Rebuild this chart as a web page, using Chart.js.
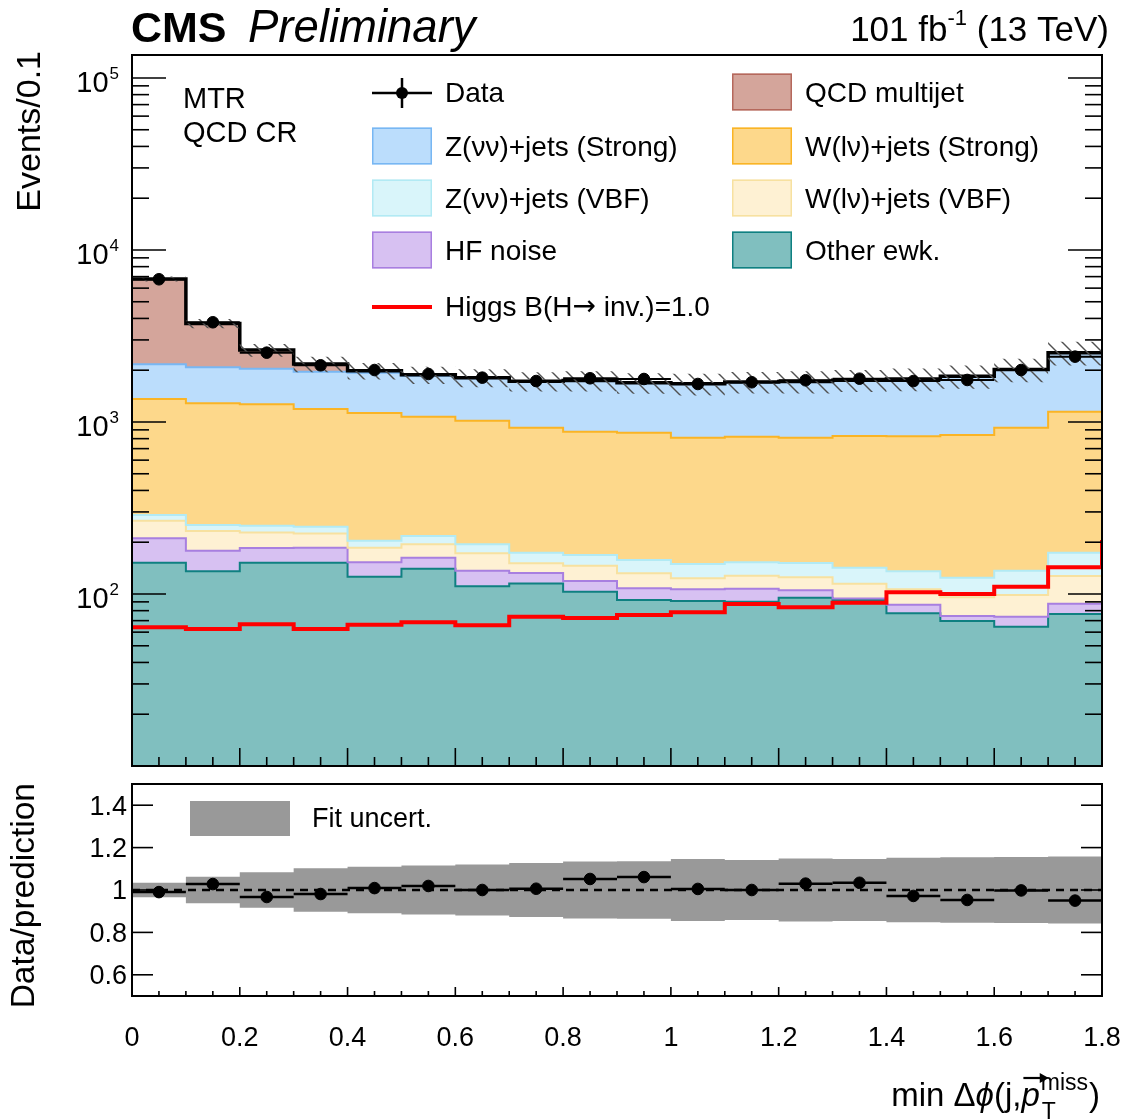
<!DOCTYPE html>
<html>
<head>
<meta charset="utf-8">
<title>MTR QCD CR - min delta phi</title>
<script src="https://cdn.jsdelivr.net/npm/chart.js@4.4.1/dist/chart.umd.min.js"></script>
<style>
  html, body { margin: 0; padding: 0; background: #ffffff; }
  #wrap { position: relative; width: 1123px; height: 1120px; }
  #wrap canvas { position: absolute; left: 0; top: 0; }
</style>
</head>
<body>
<div id="wrap">
  <canvas id="mainPanel" width="1123" height="1120"></canvas>
  <canvas id="ratioPanel" width="1123" height="1120"></canvas>
</div>
<script>
// ---------------- data ----------------
const binEdges = [0, 0.1, 0.2, 0.3, 0.4, 0.5, 0.6, 0.7, 0.8, 0.9, 1.0, 1.1, 1.2, 1.3, 1.4, 1.5, 1.6, 1.7, 1.8];

const dataCounts  = [6756, 3799, 2529, 2136, 2005, 1901, 1810, 1730, 1795, 1778, 1663, 1702, 1748, 1785, 1730, 1755, 2005, 2398];

// background processes, listed from the bottom of the stack upwards
const otherEwk    = [152, 135.5, 152, 152, 126, 140, 111, 115, 103, 92.3, 91.1, 90.2, 95.2, 92.3, 77.2, 69.7, 64.5, 76.5];
const hfNoise     = [59, 43.1, 33, 34, 27, 22.6, 25.7, 17.5, 16, 15.7, 15.3, 17.2, 9.8, 2, 9.5, 4.8, 9.3, 11.4];
const wlnVBF      = [56, 53.9, 43, 39, 33, 31.9, 35.7, 18.3, 27, 23.9, 16.9, 20.4, 20, 20.3, 19.7, 21.1, 24.9, 39.4];
const znnVBF      = [21, 19.5, 21.5, 21, 18, 22.9, 22.1, 23.1, 22.6, 25.8, 26.2, 25, 26.4, 27.3, 29.1, 28.8, 38, 46.6];
const wlnStrong   = [1073, 1032, 1017.5, 944, 924, 856.6, 823.5, 752.1, 709.4, 709.3, 660.5, 668.2, 658.6, 687.4, 690.5, 715.6, 789.3, 974.1];
const znnStrong   = [804, 796, 774, 771, 807, 781, 777, 789, 854, 818, 852, 882, 903, 916, 948, 1001, 1086, 1373];
const qcdMultijet = [4625, 1657, 577, 210, 49, 25, 15, 10, 8, 5, 5, 5, 5, 5, 5, 5, 5, 5];

// signal, last entry is the value past the upper edge
const higgsInv    = [64, 62.6, 66.7, 62.6, 66.3, 68.4, 65.8, 73.8, 72.5, 75.5, 78.2, 87.5, 83.7, 89, 102.3, 100, 110.3, 143];
const higgsOverflow = 206;

// relative fit uncertainty and data/prediction
const fitUncert   = [0.034, 0.063, 0.084, 0.103, 0.110, 0.116, 0.120, 0.127, 0.135, 0.136, 0.146, 0.142, 0.148, 0.146, 0.152, 0.155, 0.156, 0.158];
const ratioVals   = [0.990, 1.028, 0.967, 0.981, 1.009, 1.019, 1.000, 1.006, 1.052, 1.061, 1.005, 1.000, 1.030, 1.034, 0.972, 0.953, 0.998, 0.950];

// axis labels
const xTickValues = [0, 0.2, 0.4, 0.6, 0.8, 1.0, 1.2, 1.4, 1.6, 1.8];
const xTickLabels = ['0', '0.2', '0.4', '0.6', '0.8', '1', '1.2', '1.4', '1.6', '1.8'];
const yDecades    = [2, 3, 4, 5];
const ratioTickValues = [0.6, 0.8, 1.0, 1.2, 1.4];
const ratioTickLabels = ['0.6', '0.8', '1', '1.2', '1.4'];

// ---------------- helpers ----------------
const FONT = '"Liberation Sans", Arial, Helvetica, sans-serif';
const ARROW_FONT = '"DejaVu Sans", sans-serif';
const nBins = binEdges.length - 1;
const binCentres = binEdges.slice(0, nBins).map((e, i) => (e + binEdges[i + 1]) / 2);

// histogram outline: a point at each lower edge plus a closing point at the upper edge
function histPoints(vals, closing) {
  const pts = vals.map((v, i) => ({ x: binEdges[i], y: v }));
  pts.push({ x: binEdges[nBins], y: closing !== undefined ? closing : vals[nBins - 1] });
  return pts;
}

function fontSpec(size, o) {
  return `${o.style || 'normal'} ${o.weight || 'normal'} ${size}px ${o.family || FONT}`;
}
function drawText(ctx, s, x, y, size, o = {}) {
  ctx.save();
  ctx.font = fontSpec(size, o);
  ctx.fillStyle = o.color || '#000';
  ctx.textAlign = o.align || 'left';
  ctx.textBaseline = o.baseline || 'alphabetic';
  ctx.fillText(s, x, y);
  ctx.restore();
}
function textWidth(ctx, s, size, o = {}) {
  ctx.save();
  ctx.font = fontSpec(size, o);
  const w = ctx.measureText(s).width;
  ctx.restore();
  return w;
}
// draws a run of text pieces left to right, each with its own font
function drawRun(ctx, pieces, x, y, size, baseline) {
  let xs = x;
  pieces.forEach(p => {
    const o = { family: p.family, style: p.style, baseline: baseline };
    drawText(ctx, p.s, xs, y, size, o);
    xs += textWidth(ctx, p.s, size, o);
  });
}
function seg(ctx, x0, y0, x1, y1) {
  ctx.beginPath(); ctx.moveTo(x0, y0); ctx.lineTo(x1, y1); ctx.stroke();
}

// ---------------- stacked layers ----------------
const layers = [
  { name: 'Other ewk.',            vals: otherEwk,    fill: '#80bfbf', line: '#0f8081' },
  { name: 'HF noise',              vals: hfNoise,     fill: '#d7c1f2', line: '#a87fe0' },
  { name: 'W(l\u03bd)+jets (VBF)',      vals: wlnVBF,      fill: '#fef1d3', line: '#f7e1a0' },
  { name: 'Z(\u03bd\u03bd)+jets (VBF)', vals: znnVBF,      fill: '#d9f5fa', line: '#b2eaf4' },
  { name: 'W(l\u03bd)+jets (Strong)',   vals: wlnStrong,   fill: '#fdd88b', line: '#fab425' },
  { name: 'Z(\u03bd\u03bd)+jets (Strong)', vals: znnStrong, fill: '#bbddfc', line: '#78b7f3' },
  { name: 'QCD multijet',          vals: qcdMultijet, fill: '#d4a59b', line: '#000000' }
];
const cumulative = [];
{
  let run = new Array(nBins).fill(0);
  layers.forEach(l => { run = run.map((r, i) => r + l.vals[i]); cumulative.push(run.slice()); });
}
const totalPred = cumulative[cumulative.length - 1];

// datasets: index 0 is drawn on top
const mainDatasets = [];
mainDatasets.push({
  label: 'Data',
  data: dataCounts.map((v, i) => ({ x: binCentres[i], y: v })),
  showLine: false, pointRadius: 5.8, pointHoverRadius: 5.8,
  pointBackgroundColor: '#000', pointBorderColor: '#000', borderColor: '#000'
});
mainDatasets.push({
  label: 'Higgs B(H\u2192 inv.)=1.0',
  data: histPoints(higgsInv, higgsOverflow),
  stepped: true, borderColor: '#ff0000', borderWidth: 4, pointRadius: 0, fill: false
});
for (let k = layers.length - 1; k >= 0; k--) {
  const l = layers[k];
  const idx = mainDatasets.length;
  mainDatasets.push({
    label: l.name,
    data: histPoints(cumulative[k]),
    stepped: true,
    borderColor: l.line,
    borderWidth: k === layers.length - 1 ? 3.5 : 2,
    backgroundColor: l.fill,
    pointRadius: 0,
    fill: k === 0 ? 'start' : idx + 1
  });
}

// hatched uncertainty band and data bin-width bars, drawn just before the data markers
const mainOverlay = {
  id: 'mainOverlay',
  beforeDatasetDraw(chart, args) {
    if (args.index !== 0) return;
    const { ctx, chartArea: a, scales: { x, y } } = chart;
    ctx.save();
    ctx.beginPath(); ctx.rect(a.left, a.top, a.right - a.left, a.bottom - a.top); ctx.clip();
    ctx.strokeStyle = '#505050'; ctx.lineWidth = 1.4;
    for (let i = 0; i < nBins; i++) {
      const x0 = x.getPixelForValue(binEdges[i]), x1 = x.getPixelForValue(binEdges[i + 1]);
      const yT = y.getPixelForValue(totalPred[i] * (1 + fitUncert[i]));
      const yB = y.getPixelForValue(totalPred[i] * (1 - fitUncert[i]));
      ctx.save();
      ctx.beginPath(); ctx.rect(x0, yT, x1 - x0, yB - yT); ctx.clip();
      const sp = 15;
      const cMin = Math.floor((yT - x1) / sp) * sp, cMax = yB - x0;
      for (let c = cMin; c <= cMax; c += sp) seg(ctx, x0 - 5, x0 - 5 + c, x1 + 5, x1 + 5 + c);
      ctx.restore();
    }
    ctx.strokeStyle = '#000'; ctx.lineWidth = 2;
    for (let i = 0; i < nBins; i++) {
      const py = y.getPixelForValue(dataCounts[i]);
      seg(ctx, x.getPixelForValue(binEdges[i]), py, x.getPixelForValue(binEdges[i + 1]), py);
    }
    ctx.restore();
  }
};

const mainDecor = {
  id: 'mainDecor',
  afterDraw(chart) {
    const { ctx, chartArea: a, scales: { x, y } } = chart;
    ctx.save();
    ctx.strokeStyle = '#000';
    // y ticks (log)
    ctx.lineWidth = 1.6;
    for (let d = 1; d <= 5; d++) {
      for (let m = 1; m <= 9; m++) {
        const v = m * Math.pow(10, d);
        if (v < y.min || v > y.max) continue;
        const py = y.getPixelForValue(v);
        const L = m === 1 ? 34 : 17;
        seg(ctx, a.left, py, a.left + L, py);
        seg(ctx, a.right, py, a.right - L, py);
      }
    }
    // x ticks
    for (let k = 0; k <= 36; k++) {
      const px = x.getPixelForValue(k * 0.05);
      const L = k % 4 === 0 ? 18 : 9;
      seg(ctx, px, a.bottom, px, a.bottom - L);
    }
    // frame
    ctx.lineWidth = 2;
    ctx.strokeRect(a.left, a.top, a.right - a.left, a.bottom - a.top);

    // y labels 10^n
    yDecades.forEach(d => {
      const py = y.getPixelForValue(Math.pow(10, d));
      const sup = String(d);
      const sw = textWidth(ctx, sup, 17);
      drawText(ctx, sup, 119, py + 1, 17, { align: 'right' });
      drawText(ctx, '10', 118 - sw, py + 14, 29, { align: 'right' });
    });

    // y title
    ctx.save();
    ctx.translate(40, 51); ctx.rotate(-Math.PI / 2);
    drawText(ctx, 'Events/0.1', 0, 0, 34, { align: 'right' });
    ctx.restore();

    // header
    drawText(ctx, 'CMS', 131, 42, 43, { weight: 'bold' });
    drawText(ctx, 'Preliminary', 248, 42, 45.5, { style: 'italic' });
    {
      const s1 = '101 fb', s2 = '-1', s3 = ' (13 TeV)';
      const w1 = textWidth(ctx, s1, 35), w2 = textWidth(ctx, s2, 22), w3 = textWidth(ctx, s3, 35);
      let xs = 1109 - (w1 + w2 + w3);
      drawText(ctx, s1, xs, 41, 35); xs += w1;
      drawText(ctx, s2, xs, 25, 22); xs += w2;
      drawText(ctx, s3, xs, 41, 35);
    }

    // region label
    drawText(ctx, 'MTR', 183, 100, 29, { baseline: 'middle' });
    drawText(ctx, 'QCD CR', 183, 134, 29, { baseline: 'middle' });

    // legend
    const lf = 28;
    // Data
    ctx.lineWidth = 2.5;
    seg(ctx, 372, 93, 432, 93);
    seg(ctx, 402, 78, 402, 108);
    ctx.fillStyle = '#000';
    ctx.beginPath(); ctx.arc(402, 93, 6, 0, Math.PI * 2); ctx.fill();
    drawText(ctx, 'Data', 445, 94, lf, { baseline: 'middle' });
    // Higgs
    ctx.strokeStyle = '#ff0000'; ctx.lineWidth = 4;
    seg(ctx, 372, 307, 432, 307);
    drawRun(ctx, [
      { s: 'Higgs B(H' },
      { s: '\u2192', family: ARROW_FONT },
      { s: ' inv.)=1.0' }
    ], 445, 308, lf, 'middle');

    const boxes = [
      { l: layers[5], x: 372, yc: 146 },
      { l: layers[3], x: 372, yc: 198 },
      { l: layers[1], x: 372, yc: 250 },
      { l: layers[6], x: 732, yc: 92, border: '#b5685c' },
      { l: layers[4], x: 732, yc: 146 },
      { l: layers[2], x: 732, yc: 198 },
      { l: layers[0], x: 732, yc: 250 }
    ];
    boxes.forEach(b => {
      ctx.fillStyle = b.l.fill;
      ctx.fillRect(b.x, b.yc - 18.5, 60, 37);
      ctx.strokeStyle = b.border || b.l.line; ctx.lineWidth = 1.5;
      ctx.strokeRect(b.x + 0.75, b.yc - 17.75, 58.5, 35.5);
      drawText(ctx, b.l.name, b.x + 73, b.yc + 2, lf, { baseline: 'middle' });
    });
    ctx.restore();
  }
};

new Chart(document.getElementById('mainPanel'), {
  type: 'line',
  data: { datasets: mainDatasets },
  options: {
    responsive: false, animation: false, devicePixelRatio: 1,
    layout: { padding: { left: 132, right: 21, top: 55, bottom: 354 } },
    scales: {
      x: { type: 'linear', min: 0, max: 1.8, display: false },
      y: { type: 'logarithmic', min: 10, max: 1.36e5, display: false }
    },
    plugins: {
      legend: { display: false }, tooltip: { enabled: false },
      filler: { drawTime: 'beforeDatasetsDraw' }
    },
    elements: { line: { tension: 0 } }
  },
  plugins: [mainOverlay, mainDecor]
});

// ---------------- ratio panel ----------------
const ratioDatasets = [
  {
    label: 'Data/prediction',
    data: ratioVals.map((r, i) => ({ x: binCentres[i], y: r })),
    showLine: false, pointRadius: 5.8, pointHoverRadius: 5.8,
    pointBackgroundColor: '#000', pointBorderColor: '#000', borderColor: '#000'
  },
  {
    label: 'unity',
    data: [{ x: binEdges[0], y: 1 }, { x: binEdges[nBins], y: 1 }],
    borderColor: '#000', borderWidth: 2.5, borderDash: [8, 6], pointRadius: 0, fill: false
  },
  {
    label: 'Fit uncert.',
    data: histPoints(fitUncert.map(u => 1 + u)),
    stepped: true, borderColor: 'rgba(0,0,0,0)', borderWidth: 0, pointRadius: 0,
    backgroundColor: '#999999', fill: 3
  },
  {
    label: 'band-low',
    data: histPoints(fitUncert.map(u => 1 - u)),
    stepped: true, borderColor: 'rgba(0,0,0,0)', borderWidth: 0, pointRadius: 0, fill: false
  }
];

const ratioOverlay = {
  id: 'ratioOverlay',
  beforeDatasetDraw(chart, args) {
    if (args.index !== 0) return;
    const { ctx, scales: { x, y } } = chart;
    ctx.save();
    ctx.strokeStyle = '#000'; ctx.lineWidth = 2.5;
    for (let i = 0; i < nBins; i++) {
      const py = y.getPixelForValue(ratioVals[i]);
      seg(ctx, x.getPixelForValue(binEdges[i]), py, x.getPixelForValue(binEdges[i + 1]), py);
    }
    ctx.restore();
  }
};

const ratioDecor = {
  id: 'ratioDecor',
  afterDraw(chart) {
    const { ctx, chartArea: a, scales: { x, y } } = chart;
    ctx.save();
    ctx.strokeStyle = '#000'; ctx.lineWidth = 1.6;
    ratioTickValues.forEach((v, i) => {
      const py = y.getPixelForValue(v);
      seg(ctx, a.left, py, a.left + 21, py);
      seg(ctx, a.right, py, a.right - 21, py);
      drawText(ctx, ratioTickLabels[i], 127, py + 2, 27, { align: 'right', baseline: 'middle' });
    });
    for (let k = 0; k <= 36; k++) {
      const px = x.getPixelForValue(k * 0.05);
      const L = k % 4 === 0 ? 9 : 5;
      seg(ctx, px, a.bottom, px, a.bottom - L);
    }
    ctx.lineWidth = 2;
    ctx.strokeRect(a.left, a.top, a.right - a.left, a.bottom - a.top);

    xTickValues.forEach((v, i) => {
      drawText(ctx, xTickLabels[i], x.getPixelForValue(v), 1039, 27, { align: 'center', baseline: 'middle' });
    });

    // y title
    ctx.save();
    ctx.translate(34, 783); ctx.rotate(-Math.PI / 2);
    drawText(ctx, 'Data/prediction', 0, 0, 33.5, { align: 'right' });
    ctx.restore();

    // legend
    ctx.fillStyle = '#999999';
    ctx.fillRect(190, 801, 100, 35);
    drawText(ctx, 'Fit uncert.', 312, 820, 27, { baseline: 'middle' });

    // x title: min Δφ(j, p_T^miss) with vector arrow over p
    {
      const fs = 33, small = 23, base = 1106;
      const parts = [
        { s: 'min \u0394', size: fs, style: 'normal' },
        { s: '\u03d5', size: fs, style: 'italic' },
        { s: '(j,', size: fs, style: 'normal' },
        { s: 'p', size: fs, style: 'italic', arrow: true },
        { s: 'script', size: small },
        { s: ')', size: fs, style: 'normal' }
      ];
      const wMiss = textWidth(ctx, 'miss', small), wT = textWidth(ctx, 'T', small);
      let total = 0;
      parts.forEach(p => {
        p.w = p.s === 'script' ? Math.max(wMiss, wT) + 2 : textWidth(ctx, p.s, p.size, { style: p.style });
        total += p.w;
      });
      let xs = 1100 - total;
      parts.forEach(p => {
        if (p.s === 'script') {
          drawText(ctx, 'miss', xs + 1, base - 16, small);
          drawText(ctx, 'T', xs + 2, base + 13, small);
        } else {
          drawText(ctx, p.s, xs, base, p.size, { style: p.style });
          if (p.arrow) {
            const ya = base - 28;
            ctx.strokeStyle = '#000'; ctx.lineWidth = 2.2;
            seg(ctx, xs + 2, ya, xs + p.w + 2, ya);
            ctx.fillStyle = '#000';
            ctx.beginPath();
            ctx.moveTo(xs + p.w + 9, ya);
            ctx.lineTo(xs + p.w, ya - 5);
            ctx.lineTo(xs + p.w, ya + 5);
            ctx.closePath(); ctx.fill();
          }
        }
        xs += p.w;
      });
    }
    ctx.restore();
  }
};

new Chart(document.getElementById('ratioPanel'), {
  type: 'line',
  data: { datasets: ratioDatasets },
  options: {
    responsive: false, animation: false, devicePixelRatio: 1,
    layout: { padding: { left: 132, right: 21, top: 784, bottom: 124 } },
    scales: {
      x: { type: 'linear', min: 0, max: 1.8, display: false },
      y: { type: 'linear', min: 0.5, max: 1.5, display: false }
    },
    plugins: {
      legend: { display: false }, tooltip: { enabled: false },
      filler: { drawTime: 'beforeDatasetsDraw' }
    },
    elements: { line: { tension: 0 } }
  },
  plugins: [ratioOverlay, ratioDecor]
});
</script>
</body>
</html>
